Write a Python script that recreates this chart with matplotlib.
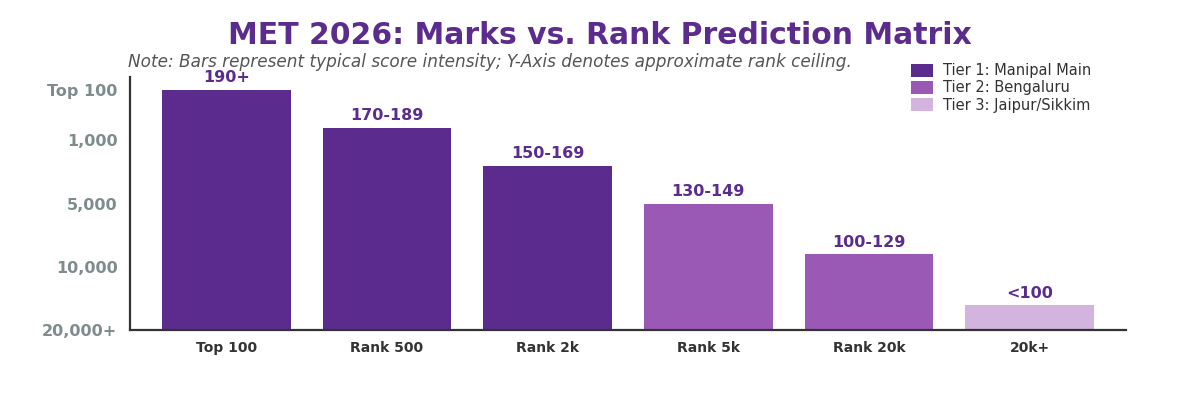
import matplotlib
matplotlib.use("Agg")
import matplotlib.pyplot as plt
from matplotlib.patches import Patch

categories = ["Top 100", "Rank 500", "Rank 2k", "Rank 5k", "Rank 20k", "20k+"]
intensity = [95, 80, 65, 50, 30, 10]
score_labels = ["190+", "170-189", "150-169", "130-149", "100-129", "<100"]
tiers = [1, 1, 1, 2, 2, 3]
ytick_vals = [0, 25, 50, 75, 95]
ytick_labels = ["20,000+", "10,000", "5,000", "1,000", "Top 100"]
tier_names = ["Tier 1: Manipal Main", "Tier 2: Bengaluru", "Tier 3: Jaipur/Sikkim"]

tier_colors = {1: "#5b2c8e", 2: "#9b59b6", 3: "#d2b4de"}
label_color = "#5b2c8e"

plt.rcParams['font.family'] = ['DejaVu Sans']

fig = plt.figure(figsize=(12, 4), dpi=100)
ax = fig.add_axes([0.1083, 0.175, 0.83, 0.6325])

x = list(range(len(categories)))
bars = ax.bar(x, intensity, width=0.8, color=[tier_colors[t] for t in tiers], zorder=2)
for xi, v, lab in zip(x, intensity, score_labels):
    ax.annotate(lab, (xi, v), xytext=(0, 3), textcoords="offset points",
                ha="center", va="bottom", fontsize=11.5, fontweight="bold", color=label_color)

ax.set_xlim(-0.6, 5.6)
ax.set_ylim(0, 100)
ax.set_xticks(x)
ax.set_xticklabels(categories, fontsize=10, fontweight="bold", color="#333333")
ax.set_yticks(ytick_vals)
ax.set_yticklabels(ytick_labels, fontsize=11.5, fontweight="bold", color="#7f8c8d")
ax.tick_params(axis="both", length=0)
ax.tick_params(axis="x", pad=8)
ax.tick_params(axis="y", pad=9)
for s in ["top", "right"]:
    ax.spines[s].set_visible(False)
for s in ["left", "bottom"]:
    ax.spines[s].set_color("#333333")
    ax.spines[s].set_linewidth(1.6)

fig.text(0.5, 0.91, "MET 2026: Marks vs. Rank Prediction Matrix", ha="center", va="center",
         fontsize=21.5, fontweight="bold", color="#5b2c8e")
fig.text(0.107, 0.845, "Note: Bars represent typical score intensity; Y-Axis denotes approximate rank ceiling.",
         ha="left", va="center", fontsize=12.2, style="italic", color="#555555")

handles = [Patch(facecolor=tier_colors[i + 1], label=n) for i, n in enumerate(tier_names)]
fig.legend(handles=handles, loc="upper left", bbox_to_anchor=(0.748, 0.875), frameon=False,
           fontsize=10.5, handlelength=1.5, handleheight=1.0, handletextpad=0.7, labelspacing=0.15,
           labelcolor="#333333")

fig.savefig("out.png", dpi=100, facecolor="white")
